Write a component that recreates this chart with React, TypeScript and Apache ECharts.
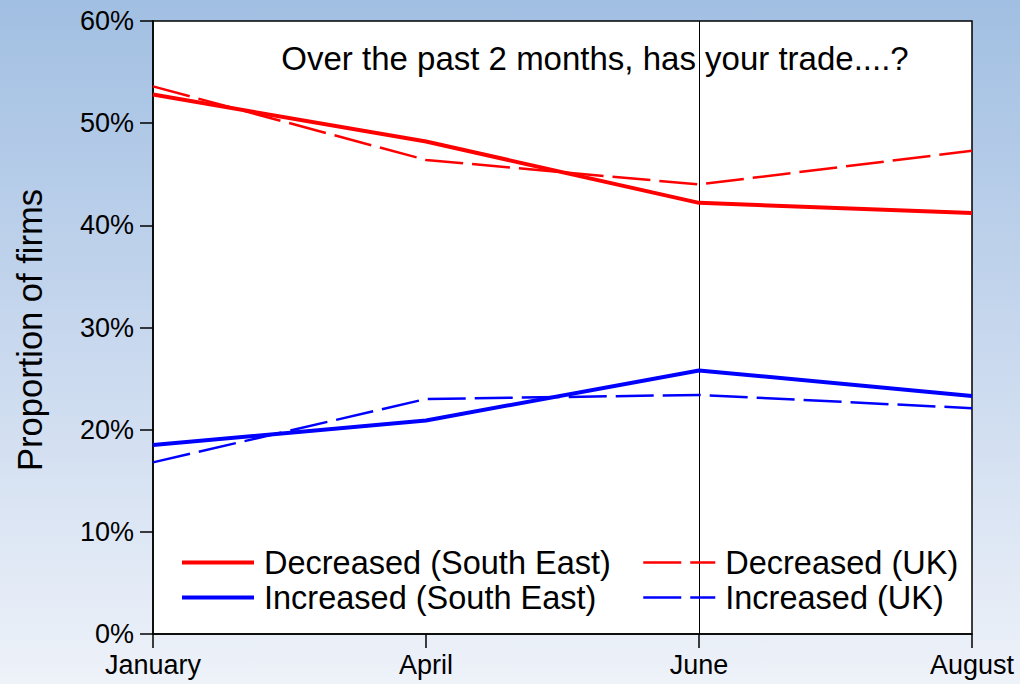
import React, { useEffect, useRef } from "react";
import * as echarts from "echarts";

const categories = ["January", "April", "June", "August"];
const decreasedSE = [52.8, 48.2, 42.2, 41.2];
const decreasedUK = [53.6, 46.4, 44.0, 47.3];
const increasedSE = [18.5, 20.9, 25.8, 23.3];
const increasedUK = [16.8, 23.0, 23.4, 22.1];
const titleText = "Over the past 2 months, has your trade....?";
const yName = "Proportion of firms";

export default function App() {
  const ref = useRef<HTMLDivElement>(null);
  useEffect(() => {
    document.body.style.margin = "0";
    const chart = echarts.init(ref.current!, undefined, { renderer: "svg" });
    const font = "Liberation Sans, Arial, sans-serif";
    const dash = [38, 9];
    const legendText = { fontSize: 32.5, lineHeight: 35, color: "#000", fontFamily: font, padding: [0, 0, 0, 5] };
    chart.setOption({
      animation: false,
      backgroundColor: "transparent",
      textStyle: { fontFamily: font, color: "#000" },
      grid: {
        left: 153,
        top: 21,
        right: 48,
        bottom: 50,
        show: true,
        backgroundColor: "#ffffff",
        borderColor: "#000",
        borderWidth: 1.5,
      },
      xAxis: {
        type: "category",
        data: categories,
        boundaryGap: false,
        axisLine: { lineStyle: { color: "#000", width: 1.5 } },
        axisTick: { show: true, length: 14, lineStyle: { color: "#000", width: 1.5 } },
        axisLabel: { color: "#000", fontSize: 27, margin: 17, fontFamily: font },
        splitLine: {
          show: true,
          interval: (index: number) => index === 2,
          lineStyle: { color: "#000", width: 1 },
        },
      },
      yAxis: {
        type: "value",
        min: 0,
        max: 60,
        interval: 10,
        axisLine: { show: true, lineStyle: { color: "#000", width: 1.5 } },
        axisTick: { show: true, length: 13, lineStyle: { color: "#000", width: 1.5 } },
        axisLabel: { color: "#000", fontSize: 27, margin: 19, formatter: "{value}%", fontFamily: font },
        splitLine: { show: false },
      },
      legend: [
        {
          orient: "vertical",
          left: 180,
          top: 545,
          padding: 0,
          itemGap: 0,
          itemWidth: 72,
          itemHeight: 14,
          itemStyle: { opacity: 0 },
          textStyle: legendText,
          data: [
            { name: "Decreased (South East)", lineStyle: { width: 4, color: "#ff0000" } },
            { name: "Increased (South East)", lineStyle: { width: 4, color: "#0000ff" } },
          ],
        },
        {
          orient: "vertical",
          left: 642,
          top: 545,
          padding: 0,
          itemGap: 0,
          itemWidth: 72,
          itemHeight: 14,
          itemStyle: { opacity: 0 },
          textStyle: legendText,
          data: [
            { name: "Decreased (UK)", lineStyle: { width: 2.5, color: "#ff0000", type: dash } },
            { name: "Increased (UK)", lineStyle: { width: 2.5, color: "#0000ff", type: dash } },
          ],
        },
      ],
      graphic: [
        {
          type: "text",
          x: 595,
          y: 58,
          style: {
            text: titleText,
            fontSize: 33,
            fontFamily: font,
            fill: "#000",
            align: "center",
            verticalAlign: "middle",
          },
        },
        {
          type: "text",
          x: 30,
          y: 330,
          rotation: Math.PI / 2,
          style: {
            text: yName,
            fontSize: 34.5,
            fontFamily: font,
            fill: "#000",
            align: "center",
            verticalAlign: "middle",
          },
        },
      ],
      series: [
        {
          name: "Decreased (South East)",
          type: "line",
          data: decreasedSE,
          symbol: "none",
          lineStyle: { color: "#ff0000", width: 4 },
          itemStyle: { color: "#ff0000" },
        },
        {
          name: "Increased (South East)",
          type: "line",
          data: increasedSE,
          symbol: "none",
          lineStyle: { color: "#0000ff", width: 4 },
          itemStyle: { color: "#0000ff" },
        },
        {
          name: "Decreased (UK)",
          type: "line",
          data: decreasedUK,
          symbol: "none",
          lineStyle: { color: "#ff0000", width: 2.5, type: dash },
          itemStyle: { color: "#ff0000" },
        },
        {
          name: "Increased (UK)",
          type: "line",
          data: increasedUK,
          symbol: "none",
          lineStyle: { color: "#0000ff", width: 2.5, type: dash },
          itemStyle: { color: "#0000ff" },
        },
      ],
    });
    return () => chart.dispose();
  }, []);
  return (
    <div
      style={{
        position: "fixed",
        left: 0,
        top: 0,
        width: 1020,
        height: 684,
        background: "linear-gradient(to bottom, #a1bfe2 0%, #c8d8ee 50%, #eef2f9 100%)",
      }}
    >
      <div ref={ref} style={{ width: 1020, height: 684 }} />
    </div>
  );
}
